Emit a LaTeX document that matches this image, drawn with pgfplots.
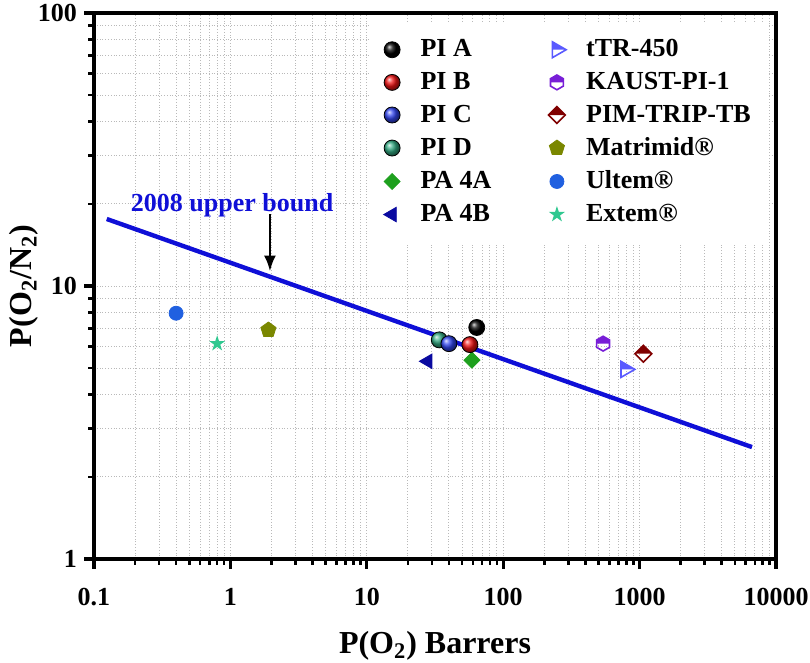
\documentclass[border=0pt]{standalone}
\usepackage{pgfplots}
\pgfplotsset{compat=1.18}
\usepackage{fontspec}
\setmainfont{Liberation Serif}
\usetikzlibrary{arrows.meta,calc}
\definecolor{cPIB}{RGB}{240,20,20}
\definecolor{cPIC}{RGB}{50,70,240}
\definecolor{cPID}{RGB}{50,170,130}
\definecolor{cPAA}{RGB}{30,160,30}
\definecolor{cPAB}{RGB}{10,10,160}
\definecolor{cTTR}{RGB}{90,90,255}
\definecolor{cKAU}{RGB}{120,30,215}
\definecolor{cPIM}{RGB}{128,0,0}
\definecolor{cMAT}{RGB}{122,135,0}
\definecolor{cULT}{RGB}{32,96,224}
\definecolor{cEXT}{RGB}{48,200,144}
\definecolor{cLINE}{RGB}{15,15,215}
\pgfdeclareplotmark{halfhex}{%
  \pgfpathmoveto{\pgfqpoint{-0.866\pgfplotmarksize}{0pt}}%
  \pgfpathlineto{\pgfqpoint{-0.866\pgfplotmarksize}{0.5\pgfplotmarksize}}%
  \pgfpathlineto{\pgfqpoint{0pt}{\pgfplotmarksize}}%
  \pgfpathlineto{\pgfqpoint{0.866\pgfplotmarksize}{0.5\pgfplotmarksize}}%
  \pgfpathlineto{\pgfqpoint{0.866\pgfplotmarksize}{0pt}}%
  \pgfpathclose\pgfusepathqfill
  \pgfpathmoveto{\pgfqpoint{0pt}{\pgfplotmarksize}}%
  \pgfpathlineto{\pgfqpoint{0.866\pgfplotmarksize}{0.5\pgfplotmarksize}}%
  \pgfpathlineto{\pgfqpoint{0.866\pgfplotmarksize}{-0.5\pgfplotmarksize}}%
  \pgfpathlineto{\pgfqpoint{0pt}{-\pgfplotmarksize}}%
  \pgfpathlineto{\pgfqpoint{-0.866\pgfplotmarksize}{-0.5\pgfplotmarksize}}%
  \pgfpathlineto{\pgfqpoint{-0.866\pgfplotmarksize}{0.5\pgfplotmarksize}}%
  \pgfpathclose\pgfusepathqstroke}
\pgfdeclareplotmark{halfdiam}{%
  \pgfpathmoveto{\pgfqpoint{-\pgfplotmarksize}{0pt}}%
  \pgfpathlineto{\pgfqpoint{0pt}{\pgfplotmarksize}}%
  \pgfpathlineto{\pgfqpoint{\pgfplotmarksize}{0pt}}%
  \pgfpathclose\pgfusepathqfill
  \pgfpathmoveto{\pgfqpoint{-\pgfplotmarksize}{0pt}}%
  \pgfpathlineto{\pgfqpoint{0pt}{\pgfplotmarksize}}%
  \pgfpathlineto{\pgfqpoint{\pgfplotmarksize}{0pt}}%
  \pgfpathlineto{\pgfqpoint{0pt}{-\pgfplotmarksize}}%
  \pgfpathclose\pgfusepathqstroke}
\pgfdeclareplotmark{fdiam}{%
  \pgfpathmoveto{\pgfqpoint{-\pgfplotmarksize}{0pt}}%
  \pgfpathlineto{\pgfqpoint{0pt}{\pgfplotmarksize}}%
  \pgfpathlineto{\pgfqpoint{\pgfplotmarksize}{0pt}}%
  \pgfpathlineto{\pgfqpoint{0pt}{-\pgfplotmarksize}}%
  \pgfpathclose\pgfusepathqfillstroke}
\pgfdeclareplotmark{halftri}{%
  \pgfpathmoveto{\pgfqpoint{-0.5\pgfplotmarksize}{0pt}}%
  \pgfpathlineto{\pgfqpoint{-0.5\pgfplotmarksize}{0.866\pgfplotmarksize}}%
  \pgfpathlineto{\pgfqpoint{\pgfplotmarksize}{0pt}}%
  \pgfpathclose\pgfusepathqfill
  \pgfpathmoveto{\pgfqpoint{\pgfplotmarksize}{0pt}}%
  \pgfpathlineto{\pgfqpoint{-0.5\pgfplotmarksize}{0.866\pgfplotmarksize}}%
  \pgfpathlineto{\pgfqpoint{-0.5\pgfplotmarksize}{-0.866\pgfplotmarksize}}%
  \pgfpathclose\pgfusepathqstroke}
\pgfdeclareplotmark{fstar}{%
  \pgfpathmoveto{\pgfqpoint{0pt}{\pgfplotmarksize}}%
  \pgfpathlineto{\pgfqpoint{-0.2245\pgfplotmarksize}{0.309\pgfplotmarksize}}%
  \pgfpathlineto{\pgfqpoint{-0.951\pgfplotmarksize}{0.309\pgfplotmarksize}}%
  \pgfpathlineto{\pgfqpoint{-0.363\pgfplotmarksize}{-0.118\pgfplotmarksize}}%
  \pgfpathlineto{\pgfqpoint{-0.588\pgfplotmarksize}{-0.809\pgfplotmarksize}}%
  \pgfpathlineto{\pgfqpoint{0pt}{-0.382\pgfplotmarksize}}%
  \pgfpathlineto{\pgfqpoint{0.588\pgfplotmarksize}{-0.809\pgfplotmarksize}}%
  \pgfpathlineto{\pgfqpoint{0.363\pgfplotmarksize}{-0.118\pgfplotmarksize}}%
  \pgfpathlineto{\pgfqpoint{0.951\pgfplotmarksize}{0.309\pgfplotmarksize}}%
  \pgfpathlineto{\pgfqpoint{0.2245\pgfplotmarksize}{0.309\pgfplotmarksize}}%
  \pgfpathclose\pgfusepathqfill}
\pgfplotsset{
  sPIA/.style={only marks, mark=ball, mark size=4pt, mark options={ball color=black}},
  sPIB/.style={only marks, mark=ball, mark size=4pt, mark options={ball color=cPIB}},
  sPIC/.style={only marks, mark=ball, mark size=4pt, mark options={ball color=cPIC}},
  sPID/.style={only marks, mark=ball, mark size=4pt, mark options={ball color=cPID}},
  sPAA/.style={only marks, mark=fdiam, mark size=4pt, mark options={draw=cPAA, fill=cPAA}},
  sPAB/.style={only marks, mark=triangle*, mark size=4.2pt, mark options={draw=cPAB, fill=cPAB, rotate=90}},
  sTTR/.style={only marks, mark=halftri, mark size=4.6pt, mark options={draw=cTTR, fill=cTTR, line width=0.8pt}},
  sKAU/.style={only marks, mark=halfhex, mark size=3.7pt, mark options={draw=cKAU, fill=cKAU, line width=0.8pt}},
  sPIM/.style={only marks, mark=halfdiam, mark size=4.2pt, mark options={draw=cPIM, fill=cPIM, line width=0.8pt}},
  sMAT/.style={only marks, mark=pentagon*, mark size=4pt, mark options={draw=cMAT, fill=cMAT}},
  sULT/.style={only marks, mark=*, mark size=3.5pt, mark options={draw=cULT, fill=cULT}},
  sEXT/.style={only marks, mark=fstar, mark size=4.2pt, mark options={draw=cEXT, fill=cEXT}},
}
\begin{document}
\begin{tikzpicture}
\begin{axis}[
  xmode=log, ymode=log,
  scale only axis, width=341pt, height=273pt,
  xmin=0.1, xmax=10000, ymin=1, ymax=100,
  xtick={0.1,1,10,100,1000,10000},
  xticklabels={0.1,1,10,100,1000,10000},
  ytick={1,10,100}, yticklabels={1,10,100},
  minor xtick={0.2,0.3,0.4,0.5,0.6,0.7,0.8,0.9,2,3,4,5,6,7,8,9,20,30,40,50,60,70,80,90,200,300,400,500,600,700,800,900,2000,3000,4000,5000,6000,7000,8000,9000},
  minor ytick={2,3,4,5,6,7,8,9,20,30,40,50,60,70,80,90},
  grid=both,
  major grid style={gray!55, densely dotted, line width=0.5pt},
  minor grid style={gray!55, densely dotted, line width=0.5pt},
  tick align=outside, tick pos=left,
  major tick length=5pt, minor tick length=3pt,
  major tick style={black, line width=1.6pt},
  minor tick style={black, line width=1.3pt},
  axis line style={line width=2pt},
  ticklabel style={font=\bfseries\fontsize{13}{13}\selectfont},
  xticklabel style={yshift=-6pt},
  xlabel={P(O\textsubscript{2}) Barrers},
  ylabel={P(O\textsubscript{2}/N\textsubscript{2})},
  label style={font=\bfseries\fontsize{16}{16}\selectfont},
  xlabel style={yshift=-6pt},
  ylabel style={yshift=-7pt},
  legend columns=2,
  legend cell align=left,
  legend style={at={(rel axis cs:0.99,0.985)}, anchor=north east, fill=white, draw=none,
    font=\bfseries\fontsize{13}{13}\selectfont,
    /tikz/every odd column/.append style={column sep=8pt},
    /tikz/every even column/.append style={column sep=26.5pt},
    row sep=2.2pt, inner sep=7pt},
]
\addlegendimage{sPIA}\addlegendentry{PI A}
\addlegendimage{sTTR}\addlegendentry{tTR-450}
\addlegendimage{sPIB}\addlegendentry{PI B}
\addlegendimage{sKAU}\addlegendentry{KAUST-PI-1}
\addlegendimage{sPIC}\addlegendentry{PI C}
\addlegendimage{sPIM}\addlegendentry{PIM-TRIP-TB}
\addlegendimage{sPID}\addlegendentry{PI D}
\addlegendimage{sMAT}\addlegendentry{Matrimid®}
\addlegendimage{sPAA}\addlegendentry{PA 4A}
\addlegendimage{sULT}\addlegendentry{Ultem®}
\addlegendimage{sPAB}\addlegendentry{PA 4B}
\addlegendimage{sEXT}\addlegendentry{Extem®}
\addplot[cLINE, line width=2.2pt, no marks, forget plot] coordinates {(0.124,17.6) (6670,2.57)};
\addplot[sPID, forget plot] coordinates {(34,6.35)};
\addplot[sPIC, forget plot] coordinates {(40,6.15)};
\addplot[sPAA, forget plot] coordinates {(59,5.35)};
\addplot[sPIB, forget plot] coordinates {(57,6.1)};
\addplot[sPIA, forget plot] coordinates {(64,7.05)};
\addplot[sPAB, forget plot] coordinates {(28,5.3)};
\addplot[sTTR, forget plot] coordinates {(790,4.95)};
\addplot[sKAU, forget plot] coordinates {(540,6.15)};
\addplot[sPIM, forget plot] coordinates {(1065,5.65)};
\addplot[sMAT, forget plot] coordinates {(1.9,6.9)};
\addplot[sULT, forget plot] coordinates {(0.4,7.95)};
\addplot[sEXT, forget plot] coordinates {(0.8,6.15)};
\draw[-{Latex[length=8pt,width=6pt]}, line width=1.4pt] (axis cs:1.95,18.3) -- (axis cs:1.95,11.3);
\node[text=cLINE, font=\bfseries\fontsize{13}{13}\selectfont] at (axis cs:1.03,19.8) {2008 upper bound};
\end{axis}
\pgfresetboundingbox
\path[use as bounding box] ($(current axis.south west)+(-47pt,-51.5pt)$) rectangle ($(current axis.north east)+(17pt,6.5pt)$);
\end{tikzpicture}
\end{document}
